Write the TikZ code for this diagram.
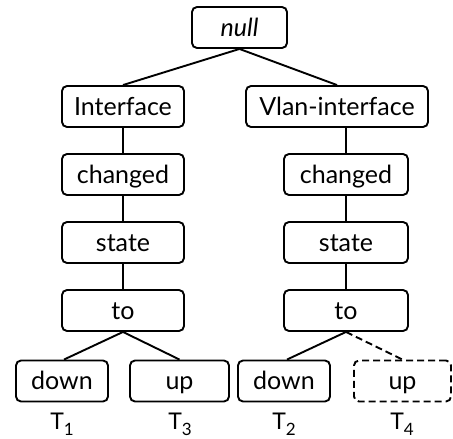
\documentclass[tikz,border=0pt]{standalone}
\usepackage{fontspec}
\setmainfont{Lato}
\begin{document}
\begin{tikzpicture}[x=1pt,y=-1pt,
  box/.style={draw,line width=1.9pt,rounded corners=5pt,minimum height=41pt,inner sep=0pt,text height=17pt,text depth=0pt,font=\fontsize{25}{28}\selectfont},
  edge/.style={line width=1.9pt},
  dash box/.style={box,dash pattern=on 7pt off 4pt},
  tlabel/.style={inner sep=0pt,font=\fontsize{23}{26}\selectfont}]
\useasboundingbox (0,0) rectangle (453,439);
\node[box,minimum width=95pt] (null) at (239.5,27.5) {\itshape null};
\node[box,minimum width=122pt] (ifL) at (123,106.5) {Interface};
\node[box,minimum width=182pt] (ifR) at (337,106.5) {Vlan-interface};
\node[box,minimum width=122pt] (chL) at (123,174.5) {changed};
\node[box,minimum width=124pt] (chR) at (346,174.5) {changed};
\node[box,minimum width=122pt] (stL) at (123,242.5) {state};
\node[box,minimum width=124pt] (stR) at (346,242.5) {state};
\node[box,minimum width=122pt] (toL) at (123,310.5) {to};
\node[box,minimum width=124pt] (toR) at (346,310.5) {to};
\node[box,minimum width=92pt] (dn1) at (62,381) {down};
\node[box,minimum width=99pt] (up3) at (179.5,381) {up};
\node[box,minimum width=92pt] (dn2) at (284,381) {down};
\node[dash box,minimum width=97pt] (up4) at (402.5,381) {up};
\node[tlabel] (t1) at (62,424) {T\raisebox{-6pt}{\fontsize{17}{17}\selectfont 1}};
\node[tlabel] (t3) at (180,424) {T\raisebox{-6pt}{\fontsize{17}{17}\selectfont 3}};
\node[tlabel] (t2) at (284,424) {T\raisebox{-6pt}{\fontsize{17}{17}\selectfont 2}};
\node[tlabel] (t4) at (402,424) {T\raisebox{-6pt}{\fontsize{17}{17}\selectfont 4}};
\draw[edge] (null.south) -- (ifL.north);
\draw[edge] (null.south) -- (ifR.north);
\draw[edge] (ifL.south) -- (chL.north);
\draw[edge] (chR.north |- ifR.south) -- (chR.north);
\draw[edge] (chL.south) -- (stL.north);
\draw[edge] (chR.south) -- (stR.north);
\draw[edge] (stL.south) -- (toL.north);
\draw[edge] (stR.south) -- (toR.north);
\draw[edge] (toL.south) -- ([xshift=2pt]dn1.north);
\draw[edge] (toL.south) -- (up3.north);
\draw[edge] (toR.south) -- ([xshift=3pt]dn2.north);
\draw[edge,dash pattern=on 7pt off 4pt] (toR.south) -- (up4.north);
\end{tikzpicture}
\end{document}
